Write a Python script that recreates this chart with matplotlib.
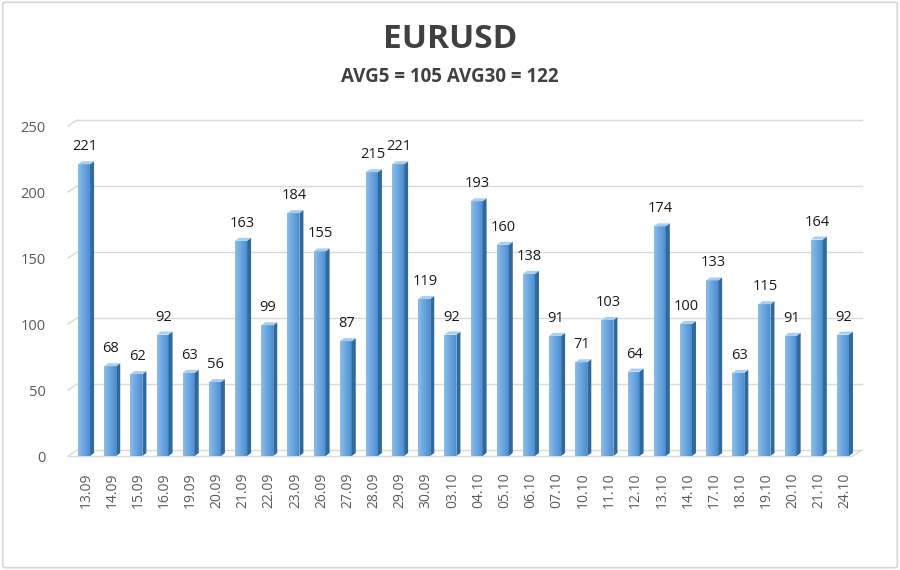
import matplotlib
matplotlib.use("Agg")
import matplotlib.pyplot as plt
from matplotlib.patches import Polygon, FancyBboxPatch
from matplotlib.colors import LinearSegmentedColormap
import numpy as np

dates = ["13.09", "14.09", "15.09", "16.09", "19.09", "20.09", "21.09", "22.09",
         "23.09", "26.09", "27.09", "28.09", "29.09", "30.09", "03.10", "04.10",
         "05.10", "06.10", "07.10", "10.10", "11.10", "12.10", "13.10", "14.10",
         "17.10", "18.10", "19.10", "20.10", "21.10", "24.10"]
values = [221, 68, 62, 92, 63, 56, 163, 99, 184, 155, 87, 215, 221, 119, 92, 193,
          160, 138, 91, 71, 103, 64, 174, 100, 133, 63, 115, 91, 164, 92]
yticks = [0, 50, 100, 150, 200, 250]
title = "EURUSD"
subtitle = "AVG5 = 105 AVG30 = 122"

plt.rcParams['font.family'] = ['Open Sans', 'DejaVu Sans']

fig = plt.figure(figsize=(9, 5.7), dpi=100)
fig.patch.set_facecolor("white")
fig.add_artist(FancyBboxPatch((0.003, 0.004), 0.994, 0.992, boxstyle="round,pad=0,rounding_size=0.004",
                              transform=fig.transFigure, fill=False, edgecolor="#d6d6d6", linewidth=1.2))

ax = fig.add_axes([68/900, (570-456)/570, 794/900, 330/570])
ax.set_xlim(-0.69, 29.65)
ax.set_ylim(0, 250)
for s in ax.spines.values():
    s.set_visible(False)
ax.set_facecolor("none")

px_x = 30.34 / 794
px_y = 250 / 330
ddx = 4 * px_x
ddy = 3 * px_y

for yv in yticks:
    ax.plot([-0.69 + 9 * px_x, 29.65], [yv + 6 * px_y, yv + 6 * px_y], color="#d9d9d9", lw=1, zorder=0, clip_on=False)
    ax.plot([-0.69, -0.69 + 9 * px_x], [yv, yv + 6 * px_y], color="#d9d9d9", lw=1, zorder=0, clip_on=False)
ax.plot([-0.69, 29.65 - 9 * px_x], [0, 0], color="#d9d9d9", lw=1, zorder=0, clip_on=False)
ax.plot([29.65 - 9 * px_x, 29.65], [0, 6 * px_y], color="#d9d9d9", lw=1, zorder=0, clip_on=False)

w = 12 * px_x
x = np.arange(len(values))
bars = ax.bar(x - ddx / 2, values, width=w, color="#5B9BD5", edgecolor="none", zorder=3)

grad = np.linspace(0, 1, 64).reshape(1, -1)
cmap = LinearSegmentedColormap.from_list("bar", ["#8DBDE9", "#6AA6DF", "#4E8ED0"])
for b in bars:
    x0 = b.get_x()
    h = b.get_height()
    im = ax.imshow(grad, cmap=cmap, aspect="auto", extent=[x0, x0 + w, 0, h], zorder=3.5, interpolation="bilinear")
    im.set_clip_path(b)
    ax.add_patch(Polygon([[x0 + w, 0], [x0 + w + ddx, ddy], [x0 + w + ddx, h + ddy], [x0 + w, h]],
                         closed=True, facecolor="#2F6A9F", edgecolor="none", zorder=4))
    ax.add_patch(Polygon([[x0, h], [x0 + ddx, h + ddy], [x0 + w + ddx, h + ddy], [x0 + w, h]],
                         closed=True, facecolor="#A9CDEF", edgecolor="none", zorder=4))

for xi, v in zip(x, values):
    ax.text(xi - 0.05, v + 7 * px_y + ddy, str(v), ha="center", va="bottom", fontsize=10.5, color="#1a1a1a", zorder=5)

ax.set_xticks(x)
ax.set_xticklabels(dates, rotation=90, fontsize=10, color="#595959")
ax.set_yticks(yticks)
ax.set_yticklabels([str(t) for t in yticks], fontsize=10.5, color="#595959")
ax.tick_params(axis="both", length=0)
ax.tick_params(axis="x", pad=12)
ax.tick_params(axis="y", pad=16)

fig.text(0.5, 1 - 40/570, title, ha="center", va="center", fontsize=24, fontweight="bold", color="#404040")
fig.text(0.5, 1 - 77/570, subtitle, ha="center", va="center", fontsize=13.5, fontweight="bold", color="#404040")

fig.savefig("out.png", dpi=100, facecolor="white")
